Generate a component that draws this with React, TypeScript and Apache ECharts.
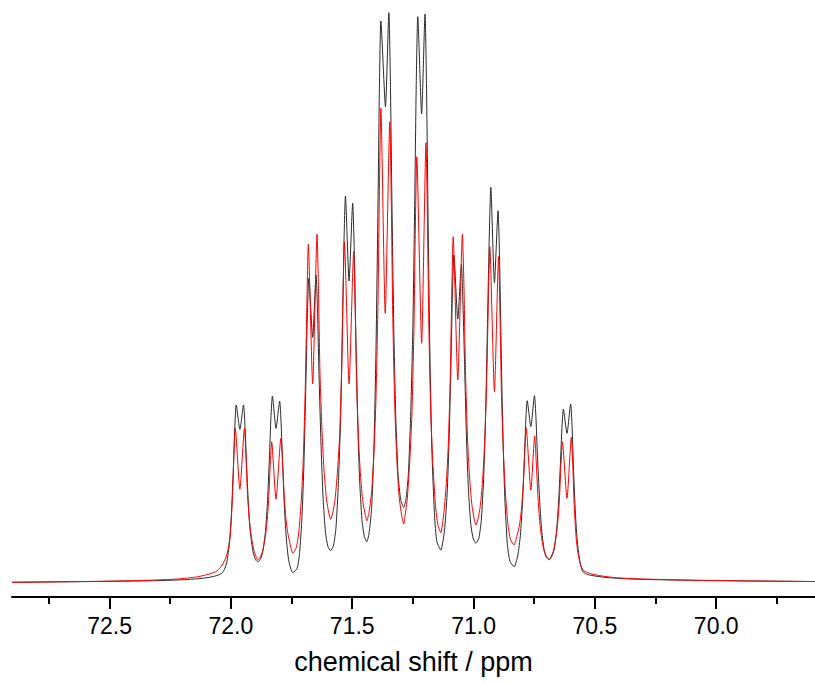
import React, { useEffect, useRef } from 'react';
import * as echarts from 'echarts';

// chemical shift (ppm) and intensity (a.u.), black spectrum
const blackShift = [
  72.902, 72.544, 72.341, 72.219, 72.138, 72.089, 72.057, 72.036, 72.027, 72.017, 72.006, 71.998, 71.990, 71.984,
  71.978, 71.963, 71.948, 71.942, 71.936, 71.928, 71.920, 71.909, 71.899, 71.890,
  71.878, 71.868, 71.857, 71.849, 71.841, 71.835, 71.829, 71.814, 71.799, 71.793, 71.787, 71.779, 71.771, 71.761, 71.745,
  71.727, 71.717, 71.707, 71.699, 71.691, 71.685, 71.679, 71.663, 71.649, 71.643, 71.637, 71.628, 71.620, 71.610, 71.600, 71.589,
  71.577, 71.567, 71.557, 71.548, 71.540, 71.534, 71.528, 71.513, 71.498, 71.492, 71.486, 71.478, 71.470, 71.460, 71.450, 71.440,
  71.431, 71.420, 71.410, 71.402, 71.394, 71.388, 71.382, 71.363, 71.349, 71.343, 71.337, 71.329, 71.321, 71.311, 71.300, 71.288,
  71.279, 71.269, 71.259, 71.250, 71.242, 71.236, 71.230, 71.214, 71.200, 71.194, 71.188, 71.180, 71.172, 71.161, 71.151, 71.135,
  71.120, 71.109, 71.101, 71.093, 71.087, 71.081, 71.065, 71.050, 71.044, 71.037, 71.029, 71.021, 71.011, 71.001, 70.990,
  70.978, 70.968, 70.958, 70.950, 70.942, 70.935, 70.929, 70.914, 70.899, 70.893, 70.887, 70.879, 70.871, 70.861, 70.850, 70.833,
  70.818, 70.807, 70.799, 70.791, 70.785, 70.779, 70.764, 70.749, 70.743, 70.737, 70.728, 70.720, 70.710, 70.700, 70.688,
  70.679, 70.668, 70.658, 70.650, 70.642, 70.636, 70.630, 70.615, 70.600, 70.594, 70.588, 70.580, 70.572, 70.561, 70.551,
  70.536, 70.512, 70.471, 70.410, 70.309, 70.105, 69.861, 69.593,
];
const blackIntensity = [
  -0.05, 0.09, 0.21, 0.35, 0.56, 0.82, 1.14, 1.58, 2.18, 3.42, 6.84, 11.81, 19.56, 27.02,
  31.05, 26.79, 31.05, 27.48, 21.15, 13.73, 8.78, 5.35, 3.97, 3.56,
  4.0, 5.45, 9.08, 14.32, 22.16, 28.85, 32.63, 26.96, 31.75, 27.83, 20.91, 12.77, 7.35, 3.59, 1.63,
  2.4, 4.99, 11.44, 20.74, 34.69, 46.57, 53.28, 42.93, 53.86, 47.57, 36.45, 23.39, 14.68, 8.63, 6.22, 5.49,
  6.42, 9.53, 17.31, 28.52, 45.32, 59.63, 67.72, 52.81, 66.44, 58.72, 45.07, 29.04, 18.35, 10.93, 7.96, 7.07,
  8.44, 13.01, 24.43, 40.87, 65.53, 86.54, 98.42, 83.39, 99.88, 88.6, 68.64, 45.21, 29.6, 18.75, 14.41, 13.11,
  14.4, 18.7, 29.46, 44.96, 68.19, 87.99, 99.18, 82.11, 99.65, 87.42, 65.8, 40.4, 23.48, 11.72, 7.02, 5.61,
  8.97, 15.44, 24.76, 38.74, 50.64, 57.37, 46.14, 55.79, 49.42, 38.15, 24.92, 16.1, 9.98, 7.53, 6.79,
  7.73, 10.85, 18.66, 29.9, 46.76, 61.13, 69.25, 52.51, 65.14, 57.02, 42.65, 25.79, 14.55, 6.74, 3.62, 2.68,
  4.57, 8.21, 13.46, 21.32, 28.02, 31.81, 27.25, 32.68, 28.95, 22.35, 14.6, 9.43, 5.85, 4.41, 3.98,
  4.37, 5.69, 8.98, 13.72, 20.82, 26.88, 30.3, 26.09, 31.23, 27.18, 19.67, 11.86, 6.88, 3.44, 1.88,
  1.4, 1.14, 0.88, 0.65, 0.47, 0.3, 0.18, 0.08,
];

// red spectrum
const redShift = [
  72.902, 72.544, 72.341, 72.219, 72.138, 72.089, 72.057, 72.036, 72.021, 72.011, 72.002, 71.994, 71.988,
  71.982, 71.963, 71.944, 71.938, 71.932, 71.924, 71.915, 71.905, 71.895, 71.890,
  71.881, 71.870, 71.860, 71.852, 71.844, 71.838, 71.832, 71.814, 71.794, 71.787, 71.781, 71.773, 71.765, 71.755, 71.745,
  71.730, 71.720, 71.710, 71.702, 71.694, 71.687, 71.681, 71.663, 71.645, 71.639, 71.633, 71.624, 71.616, 71.606, 71.596, 71.589,
  71.581, 71.571, 71.561, 71.552, 71.544, 71.538, 71.532, 71.513, 71.494, 71.488, 71.482, 71.474, 71.466, 71.456, 71.446, 71.440,
  71.431, 71.420, 71.410, 71.402, 71.394, 71.388, 71.382, 71.364, 71.345, 71.339, 71.333, 71.325, 71.317, 71.307, 71.296, 71.288,
  71.283, 71.273, 71.263, 71.254, 71.246, 71.240, 71.234, 71.214, 71.196, 71.190, 71.184, 71.176, 71.167, 71.157, 71.147, 71.135,
  71.122, 71.112, 71.104, 71.096, 71.090, 71.084, 71.065, 71.046, 71.039, 71.033, 71.025, 71.017, 71.007, 70.997, 70.990,
  70.982, 70.972, 70.962, 70.954, 70.946, 70.939, 70.933, 70.914, 70.897, 70.891, 70.885, 70.876, 70.868, 70.858, 70.848, 70.833,
  70.822, 70.811, 70.803, 70.795, 70.789, 70.783, 70.764, 70.748, 70.742, 70.735, 70.727, 70.719, 70.709, 70.699, 70.688,
  70.683, 70.672, 70.662, 70.654, 70.646, 70.640, 70.634, 70.615, 70.597, 70.591, 70.585, 70.577, 70.569, 70.559, 70.548,
  70.532, 70.512, 70.471, 70.410, 70.309, 70.105, 69.861, 69.593,
];
const redIntensity = [
  -0.05, 0.12, 0.3, 0.53, 0.91, 1.4, 1.93, 2.98, 4.21, 5.79, 8.42, 14.56, 21.93,
  26.96, 16.26, 26.96, 22.34, 15.87, 10.79, 7.79, 5.48, 4.32, 3.86,
  4.28, 5.31, 7.39, 10.09, 14.65, 20.46, 24.61, 14.51, 25.21, 21.18, 15.53, 11.09, 8.47, 6.45, 5.04,
  6.12, 8.83, 14.26, 21.3, 33.23, 48.41, 59.25, 34.74, 61.0, 51.0, 37.0, 26.0, 19.5, 14.5, 12.0, 11.0,
  11.97, 14.41, 19.28, 25.61, 36.32, 49.96, 59.7, 34.74, 57.95, 48.51, 35.29, 24.91, 18.77, 14.05, 11.69, 10.75,
  12.2, 15.82, 23.05, 32.46, 48.38, 68.64, 83.11, 47.14, 80.75, 66.64, 46.88, 31.35, 22.18, 15.12, 11.59, 10.18,
  11.47, 14.69, 21.13, 29.51, 43.68, 61.72, 74.61, 41.88, 77.07, 63.39, 44.23, 29.18, 20.28, 13.44, 10.02, 8.65,
  12.29, 17.48, 24.23, 35.65, 50.19, 60.58, 35.44, 61.0, 50.8, 36.52, 25.3, 18.67, 13.57, 11.02, 10.0,
  10.98, 13.42, 18.3, 24.65, 35.39, 49.06, 58.82, 33.39, 57.07, 46.95, 32.79, 21.66, 15.09, 10.03, 7.5, 6.49,
  7.92, 9.97, 12.63, 17.13, 22.87, 26.96, 16.14, 25.61, 21.26, 15.17, 10.39, 7.56, 5.38, 4.3, 3.86,
  4.28, 5.31, 7.39, 10.09, 14.65, 20.46, 24.61, 14.68, 25.39, 20.32, 13.19, 7.61, 4.82, 3.05, 2.04,
  1.67, 1.4, 1.05, 0.74, 0.53, 0.32, 0.18, 0.08,
];

const majorTicks = [72.5, 72.0, 71.5, 71.0, 70.5, 70.0];
const minorTicks = [72.75, 72.25, 71.75, 71.25, 70.75, 70.25, 69.75];
const axisTitle = 'chemical shift / ppm';

const X_MIN = 69.593;
const X_MAX = 72.902;
const FONT = 'Arial, "Liberation Sans", sans-serif';

function zip(xs: number[], ys: number[]) {
  return xs.map((x, i) => [x, ys[i]]);
}

export default function App() {
  const ref = useRef<HTMLDivElement>(null);
  useEffect(() => {
    if (!ref.current) return;
    const chart = echarts.init(ref.current, null, { renderer: 'svg' });
    chart.setOption({
      animation: false,
      backgroundColor: '#ffffff',
      grid: { left: 12, right: -11, top: 0, bottom: 87, containLabel: false },
      xAxis: [
        {
          type: 'value',
          inverse: true,
          min: X_MIN,
          max: X_MAX,
          position: 'bottom',
          axisLine: { show: true, onZero: false, lineStyle: { color: '#000', width: 2 } },
          axisTick: { show: true, inside: false, length: 12, lineStyle: { color: '#000', width: 2 }, customValues: majorTicks },
          axisLabel: {
            show: true,
            customValues: majorTicks,
            formatter: (v: number) => v.toFixed(1),
            color: '#000',
            fontSize: 23,
            fontFamily: FONT,
            margin: 17,
          },
          splitLine: { show: false },
          name: axisTitle,
          nameLocation: 'middle',
          nameGap: 51,
          nameTextStyle: { fontSize: 27, color: '#000', fontFamily: FONT },
        },
        {
          type: 'value',
          inverse: true,
          min: X_MIN,
          max: X_MAX,
          position: 'bottom',
          axisLine: { show: false, onZero: false },
          axisTick: { show: true, inside: false, length: 7, lineStyle: { color: '#000', width: 2 }, customValues: minorTicks },
          axisLabel: { show: false },
          splitLine: { show: false },
        },
      ],
      yAxis: { type: 'value', min: -2.6316, max: 102.105, show: false, splitLine: { show: false } },
      series: [
        {
          type: 'line',
          name: 'black',
          xAxisIndex: 0,
          data: zip(blackShift, blackIntensity),
          showSymbol: false,
          symbol: 'none',
          silent: true,
          smooth: 0.2,
          lineStyle: { color: '#2a2a2a', width: 1 },
        },
        {
          type: 'line',
          name: 'red',
          xAxisIndex: 0,
          data: zip(redShift, redIntensity),
          showSymbol: false,
          symbol: 'none',
          silent: true,
          smooth: 0.2,
          lineStyle: { color: '#ff0000', width: 1 },
        },
      ],
    });
    return () => chart.dispose();
  }, []);
  return (
    <div
      ref={ref}
      style={{ position: 'fixed', left: 0, top: 0, width: 815, height: 684, background: '#fff' }}
    />
  );
}
